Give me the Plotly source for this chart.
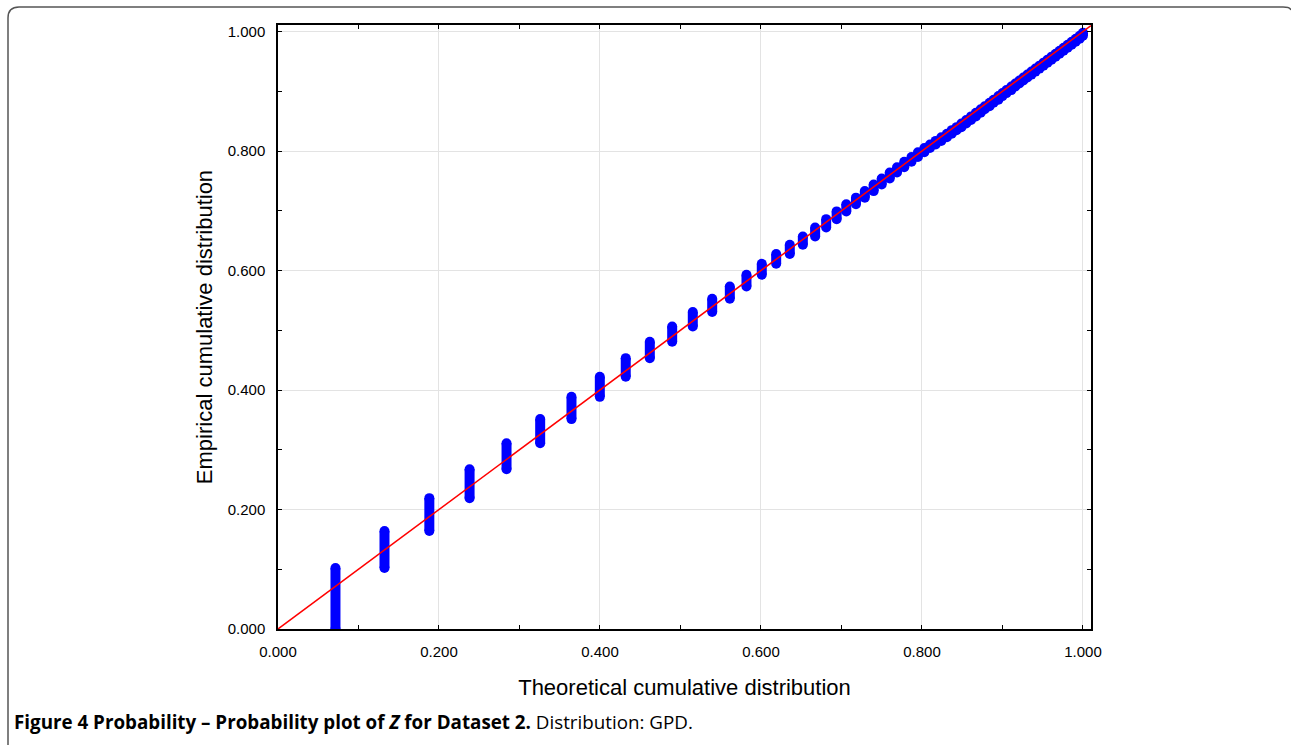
import plotly.graph_objects as go

# Theoretical cumulative value of each tied group (x) and empirical cumulative value at its top (y)
theoretical = [0.0714, 0.1323, 0.188, 0.238, 0.2839, 0.3257, 0.3646, 0.3998, 0.432, 0.4619,
               0.4897, 0.5153, 0.5394, 0.5613, 0.582, 0.601, 0.6189, 0.6358, 0.652, 0.6673,
               0.681, 0.694, 0.706, 0.718, 0.729, 0.740, 0.750, 0.760, 0.769, 0.778,
               0.787, 0.795, 0.803, 0.810, 0.817, 0.824, 0.831, 0.837, 0.843, 0.849,
               0.855, 0.861, 0.867, 0.873, 0.878, 0.884, 0.889, 0.895, 0.900, 0.905,
               0.911, 0.916, 0.921, 0.926, 0.931, 0.936, 0.941, 0.946, 0.951, 0.956,
               0.961, 0.966, 0.971, 0.976, 0.981, 0.986, 0.991, 0.996, 1.000]
empirical_top = [0.102, 0.164, 0.219, 0.2675, 0.311, 0.3513, 0.3886, 0.4221, 0.4534, 0.4807,
                 0.5064, 0.5305, 0.5528, 0.5734, 0.593, 0.6114, 0.6276, 0.6432, 0.657, 0.672,
                 0.686, 0.699, 0.711, 0.722, 0.733, 0.744, 0.754, 0.764, 0.773, 0.782,
                 0.790, 0.798, 0.805, 0.811, 0.817, 0.823, 0.829, 0.835, 0.840, 0.846,
                 0.852, 0.858, 0.864, 0.870, 0.875, 0.881, 0.886, 0.892, 0.897, 0.902,
                 0.908, 0.913, 0.918, 0.923, 0.928, 0.933, 0.938, 0.943, 0.948, 0.953,
                 0.958, 0.963, 0.968, 0.973, 0.978, 0.983, 0.988, 0.993, 0.998]
ref_line = [0.0, 1.01]
tick_vals = [0.0, 0.2, 0.4, 0.6, 0.8, 1.0]

xs, ys = [], []
prev = 0.0
for t, top in zip(theoretical, empirical_top):
    xs += [t, t, None]
    ys += [prev, top, None]
    prev = top

fig = go.Figure()
fig.add_trace(go.Scatter(x=xs, y=ys, mode="lines+markers",
                         line=dict(color="#0000FF", width=10),
                         marker=dict(color="#0000FF", size=10, line=dict(width=0)),
                         hoverinfo="skip", showlegend=False))
fig.add_trace(go.Scatter(x=ref_line, y=ref_line, mode="lines",
                         line=dict(color="#FF0000", width=1.5),
                         hoverinfo="skip", showlegend=False))

axis_common = dict(
    tickvals=tick_vals, tickformat=".3f", ticks="inside", ticklen=4, tickcolor="black",
    showline=True, linecolor="black", linewidth=1.5, mirror="ticks",
    showgrid=True, gridcolor="#e3e3e3", gridwidth=1, zeroline=False,
    minor=dict(dtick=0.1, tick0=0, ticks="inside", ticklen=4, tickcolor="black", showgrid=False),
    tickfont=dict(family="Liberation Sans, Arial", size=15, color="black"),
    ticklabelstandoff=8,
)
fig.update_xaxes(range=[0, 1.01], **axis_common,
                 title=dict(text="Theoretical cumulative distribution", standoff=21,
                            font=dict(family="Liberation Sans, Arial", size=22, color="black")))
fig.update_yaxes(range=[0, 1.011], **axis_common,
                 title=dict(text="Empirical cumulative distribution", standoff=9,
                            font=dict(family="Liberation Sans, Arial", size=22, color="black")))

W, H = 1291, 745
L, R, T, B = 278, 200, 25, 116
pw, ph = W - L - R, H - T - B

def fx(px):
    return (px - L) / pw

def fy(py):
    return 1 - (py - T) / ph

border = (f"M {fx(8)},{fy(745)} L {fx(8)},{fy(18)} Q {fx(8)},{fy(7)} {fx(19)},{fy(7)} "
          f"L {fx(1283)},{fy(7)} Q {fx(1290)},{fy(7)} {fx(1291)},{fy(10)}")
fig.add_shape(type="path", path=border, xref="paper", yref="paper",
              line=dict(color="#555555", width=1.5), layer="above")

fig.add_annotation(x=fx(12), y=fy(722), xref="paper", yref="paper", xanchor="left", yanchor="middle",
                   showarrow=False,
                   text="<b>Figure 4 Probability – Probability plot of <i>Z</i> for Dataset 2.</b> Distribution: GPD.",
                   font=dict(family="Open Sans, sans-serif", size=18.8, color="black"))

fig.update_layout(width=W, height=H, margin=dict(l=L, r=R, t=T, b=B),
                  paper_bgcolor="white", plot_bgcolor="white")

fig.write_html("out.html", config={"displayModeBar": False},
               post_script="document.body.style.margin='0';document.body.style.overflow='hidden';")
